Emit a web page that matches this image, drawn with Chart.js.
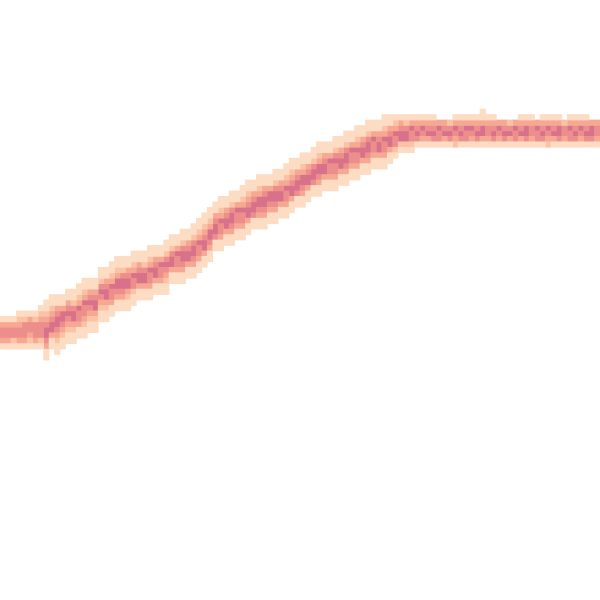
<!DOCTYPE html>
<html>
<head>
<meta charset="utf-8">
<script src="https://cdn.jsdelivr.net/npm/chart.js@4.4.1/dist/chart.umd.min.js"></script>
<style>
html,body{margin:0;padding:0;background:#fff;}
#wrap{width:600px;height:600px;position:relative;}
</style>
</head>
<body>
<div id="wrap"><canvas id="c"></canvas></div>
<script>
// grid size (cells per side)
const gridCols = 110;
const gridRows = 110;

// top row (from the top) of the band in each column
const bandTop = [
  58,58,58,57,57,57,57,56,55,54,
  54,54,53,53,52,51,51,51,49,49,
  48,47,47,47,46,46,46,45,45,45,
  44,43,43,42,42,41,40,39,38,37,
  36,36,35,35,34,33,33,32,32,32,
  31,31,30,29,29,28,28,27,26,26,
  26,25,25,24,24,23,23,22,22,22,
  21,21,21,21,21,21,21,21,21,21,
  22,22,22,21,21,21,21,21,20,21,
  21,22,22,22,22,21,21,21,22,21,
  21,21,21,22,21,21,21,21,22,22
];

// density level (1 light .. 5 dark) of each cell, top to bottom, per column
const bandLevels = [
  "134431","134431","134421","1234431","1244431","1344321","1244431","12344421","11234554311","1123455311",
  "11345543211","1135543211","1134543211","1124553211","1123544311","11235443211","1134543211","1134553211","1124543211","1134553211",
  "1123544311","1123554311","1124554311","1134553211","1123544211","113455311","112455311","1123544311","113455311","113544311",
  "1124543211","112455311","113544311","1124554311","113455311","1124554311","1123544311","1123455311","1123554311","113455411",
  "1123544311","113455311","1124554311","113544311","1123544311","1123455311","113455411","1123554311","1134554311","113554311",
  "1124554311","113455311","1123544311","1123455311","113455411","1123554311","113455311","112455411","1123554311","113455311",
  "113544311","1124544311","113455311","1124554311","113544311","1123544311","113455311","1124554311","113544311","113455311",
  "1123544311","113455311","12354421","1345521","1245521","1354421","134541","135431","134531","134541",
  "35441","34531","24541","135432","134541","135441","135431","134541","1135531","134431",
  "134541","35431","34541","24531","35441","134531","135541","134431","35441","134541",
  "135432","134531","135541","24431","135441","134541","135431","134541","35541","34431"
];

// colours of the five density levels
const levelColors = ['#fddcc4','#fbc2a6','#f6a892','#ec8e8b','#d8718a'];

const datasets = levelColors.map((col, i) => ({
  label: 'level ' + (i + 1),
  data: [],
  backgroundColor: col,
  borderWidth: 0,
  pointStyle: 'rect',
  pointRadius: (ctx) => {
    const s = ctx.chart.scales.x;
    const cell = Math.abs(s.getPixelForValue(1) - s.getPixelForValue(0));
    return (cell / 2 + 0.35) / Math.SQRT1_2;
  },
  pointHoverRadius: 0
}));

bandTop.forEach((top, c) => {
  const s = bandLevels[c];
  for (let k = 0; k < s.length; k++) {
    const lv = parseInt(s[k], 10);
    datasets[lv - 1].data.push({ x: c + 0.5, y: top + k + 0.5 });
  }
});

new Chart(document.getElementById('c'), {
  type: 'scatter',
  data: { datasets },
  options: {
    responsive: true,
    maintainAspectRatio: false,
    animation: false,
    layout: { padding: 0 },
    plugins: { legend: { display: false }, tooltip: { enabled: false } },
    scales: {
      x: { type: 'linear', min: 0, max: gridCols, display: false },
      y: { type: 'linear', min: 0, max: gridRows, reverse: true, display: false }
    }
  }
});
</script>
</body>
</html>
